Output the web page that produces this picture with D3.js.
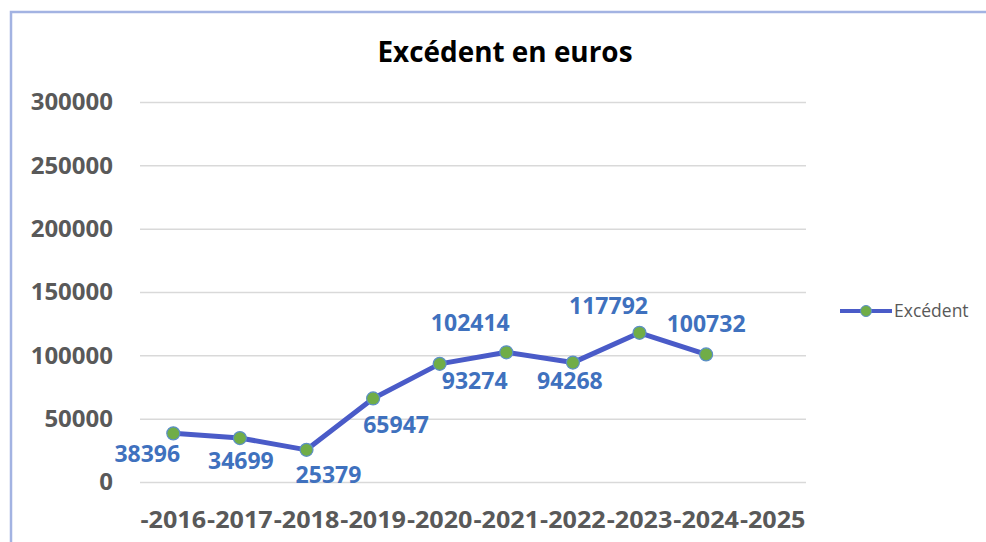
<!DOCTYPE html>
<html>
<head>
<meta charset="utf-8">
<script src="https://cdn.jsdelivr.net/npm/d3@7"></script>
<style>
  html, body { margin: 0; padding: 0; background: #fff; }
</style>
</head>
<body>
<div id="chart"></div>
<script>
// categories (last one has no value)
const categories = ["-2016", "-2017", "-2018", "-2019", "-2020", "-2021", "-2022", "-2023", "-2024", "-2025"];
const excedent = [38396, 34699, 25379, 65947, 93274, 102414, 94268, 117792, 100732, null];
const yTicks = [0, 50000, 100000, 150000, 200000, 250000, 300000];
const seriesName = "Excédent";
const chartTitle = "Excédent en euros";

// label placement around each point (dx, dy of label centre, px)
const labelOffsets = [[-26, 21], [1, 23], [22, 25], [23, 26], [35, 17], [-36, -29], [-3, 18], [-31, -27], [0, -30]];

const width = 986, height = 542;
const plot = { left: 140, right: 806, top: 102, bottom: 482 };

const svg = d3.select("#chart").append("svg")
  .attr("width", width)
  .attr("height", height)
  .attr("font-family", "'Open Sans', sans-serif");

// chart frame (only top and left edges are visible in the shot)
svg.append("path")
  .attr("d", `M11,${height} V12 H${width}`)
  .attr("fill", "none")
  .attr("stroke", "#a3b3e2")
  .attr("stroke-width", 2.5);

const x = d3.scaleBand().domain(categories).range([plot.left, plot.right]).padding(0);
const cx = (c) => x(c) + x.bandwidth() / 2;
const y = d3.scaleLinear().domain([0, 300000]).range([plot.bottom, plot.top]);

svg.append("text")
  .attr("x", 505).attr("y", 62)
  .attr("text-anchor", "middle")
  .attr("font-size", 28).attr("font-weight", 700)
  .attr("fill", "#000")
  .attr("textLength", 255)
  .attr("lengthAdjust", "spacingAndGlyphs")
  .text(chartTitle);

// gridlines + y labels
const yAxis = svg.append("g")
  .attr("transform", `translate(${plot.left},0)`)
  .call(d3.axisLeft(y).tickValues(yTicks).tickSize(-(plot.right - plot.left)).tickPadding(27).tickFormat(d3.format("d")));
yAxis.select(".domain").remove();
yAxis.selectAll(".tick line").attr("stroke", "#d9d9d9").attr("stroke-width", 1.5);
yAxis.selectAll(".tick text")
  .attr("font-family", "'Open Sans', sans-serif")
  .attr("font-size", 24).attr("font-weight", 700)
  .attr("fill", "#595959");

// x labels (they touch each other in the original, so stretch to the band)
const xAxis = svg.append("g")
  .attr("transform", `translate(0,${plot.bottom})`)
  .call(d3.axisBottom(x).tickSize(0).tickPadding(29));
xAxis.select(".domain").remove();
xAxis.selectAll(".tick text")
  .attr("font-family", "'Open Sans', sans-serif")
  .attr("font-size", 24).attr("font-weight", 700)
  .attr("fill", "#595959")
  .attr("textLength", x.bandwidth() - 1)
  .attr("lengthAdjust", "spacingAndGlyphs");

const pts = categories.map((c, i) => ({ c, v: excedent[i], i })).filter((d) => d.v != null);

const lineColor = "#4a5bc8";
const markerFill = "#70ad47";

svg.append("path")
  .datum(pts)
  .attr("fill", "none")
  .attr("stroke", lineColor)
  .attr("stroke-width", 5)
  .attr("stroke-linejoin", "round")
  .attr("d", d3.line().x((d) => cx(d.c)).y((d) => y(d.v)));

svg.selectAll("circle.pt")
  .data(pts)
  .join("circle")
  .attr("class", "pt")
  .attr("cx", (d) => cx(d.c))
  .attr("cy", (d) => y(d.v))
  .attr("r", 6.5)
  .attr("fill", markerFill)
  .attr("stroke", "#5b8fc7")
  .attr("stroke-width", 1.2);

svg.selectAll("text.lbl")
  .data(pts)
  .join("text")
  .attr("class", "lbl")
  .attr("x", (d) => cx(d.c) + labelOffsets[d.i][0])
  .attr("y", (d) => y(d.v) + labelOffsets[d.i][1])
  .attr("dy", "0.35em")
  .attr("text-anchor", "middle")
  .attr("font-size", 23).attr("font-weight", 700)
  .attr("fill", "#3f71be")
  .text((d) => d.v);

// legend
const lg = svg.append("g").attr("transform", "translate(840,311)");
lg.append("line").attr("x1", 0).attr("x2", 52).attr("stroke", lineColor).attr("stroke-width", 4);
lg.append("circle").attr("cx", 26).attr("r", 5.5).attr("fill", markerFill).attr("stroke", "#5b8fc7").attr("stroke-width", 1);
lg.append("text")
  .attr("x", 54).attr("dy", "0.35em")
  .attr("font-size", 17.5)
  .attr("fill", "#595959")
  .text(seriesName);
</script>
</body>
</html>
